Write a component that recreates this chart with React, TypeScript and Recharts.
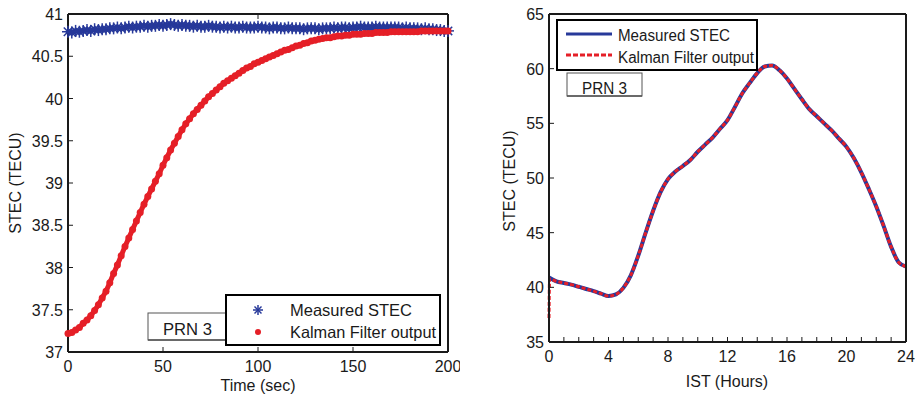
import React from 'react';
import { LineChart, Line, XAxis, YAxis } from 'recharts';

// --- LEFT CHART: convergence over the first 200 s ---
const timeSec = [
  0, 2, 4, 6, 8, 10, 12, 14, 16, 18,
  20, 22, 24, 26, 28, 30, 32, 34, 36, 38,
  40, 42, 44, 46, 48, 50, 52, 54, 56, 58,
  60, 62, 64, 66, 68, 70, 72, 74, 76, 78,
  80, 82, 84, 86, 88, 90, 92, 94, 96, 98,
  100, 102, 104, 106, 108, 110, 112, 114, 116, 118,
  120, 122, 124, 126, 128, 130, 132, 134, 136, 138,
  140, 142, 144, 146, 148, 150, 152, 154, 156, 158,
  160, 162, 164, 166, 168, 170, 172, 174, 176, 178,
  180, 182, 184, 186, 188, 190, 192, 194, 196, 198,
  200,
];

const measuredStec = [
  40.79, 40.78, 40.8, 40.79, 40.8, 40.81, 40.8, 40.82, 40.81, 40.82,
  40.82, 40.83, 40.83, 40.84, 40.83, 40.84, 40.85, 40.84, 40.85, 40.85,
  40.86, 40.85, 40.86, 40.86, 40.87, 40.86, 40.87, 40.88, 40.87, 40.86,
  40.87, 40.86, 40.86, 40.85, 40.86, 40.85, 40.85, 40.86, 40.85, 40.85,
  40.84, 40.85, 40.84, 40.85, 40.84, 40.84, 40.85, 40.84, 40.84, 40.84,
  40.85, 40.84, 40.84, 40.83, 40.84, 40.84, 40.83, 40.83, 40.84, 40.83,
  40.83, 40.83, 40.82, 40.83, 40.83, 40.83, 40.82, 40.83, 40.83, 40.83,
  40.84, 40.83, 40.84, 40.84, 40.83, 40.84, 40.84, 40.85, 40.84, 40.84,
  40.84, 40.85, 40.84, 40.84, 40.84, 40.84, 40.84, 40.84, 40.83, 40.84,
  40.83, 40.83, 40.83, 40.82, 40.83, 40.82, 40.82, 40.81, 40.81, 40.8,
  40.8,
];

const kalmanStec = [
  37.22, 37.23, 37.26, 37.29, 37.34, 37.38, 37.43, 37.49, 37.56, 37.64,
  37.72, 37.82, 37.93, 38.03, 38.14, 38.25, 38.35, 38.45, 38.55, 38.65,
  38.75, 38.84, 38.93, 39.02, 39.11, 39.21, 39.3, 39.39, 39.47, 39.55,
  39.63, 39.7, 39.76, 39.82, 39.87, 39.92, 39.97, 40.02, 40.06, 40.1,
  40.14, 40.18, 40.21, 40.24, 40.27, 40.3, 40.33, 40.36, 40.38, 40.41,
  40.43, 40.45, 40.47, 40.49, 40.51, 40.53, 40.55, 40.57, 40.58, 40.6,
  40.62, 40.63, 40.65, 40.66, 40.68, 40.69, 40.7, 40.71, 40.72, 40.72,
  40.73, 40.74, 40.74, 40.75, 40.75, 40.76, 40.76, 40.76, 40.77, 40.77,
  40.77, 40.78, 40.78, 40.78, 40.78, 40.79, 40.79, 40.79, 40.79, 40.79,
  40.79, 40.79, 40.79, 40.8, 40.8, 40.8, 40.8, 40.8, 40.8, 40.8,
  40.8,
];

const leftXTicks = [0, 50, 100, 150, 200];
const leftYTicks = [37, 37.5, 38, 38.5, 39, 39.5, 40, 40.5, 41];

// --- RIGHT CHART: full day ---
const istHours = [
  0, 0.5, 1, 1.5, 2, 2.5, 3, 3.5, 4, 4.5,
  5, 5.5, 6, 6.5, 7, 7.5, 8, 8.5, 9, 9.5,
  10, 10.5, 11, 11.5, 12, 12.5, 13, 13.5, 14, 14.5,
  15, 15.5, 16, 16.5, 17, 17.5, 18, 18.5, 19, 19.5,
  20, 20.5, 21, 21.5, 22, 22.5, 23, 23.5, 24,
];

const istMeasured = [
  40.9, 40.55, 40.4, 40.25, 40.05, 39.85, 39.65, 39.42, 39.2, 39.35,
  39.95, 41.1, 42.9, 45.0, 47.0, 48.7, 49.9, 50.6, 51.1, 51.65,
  52.4, 53.05, 53.7, 54.5, 55.3, 56.5, 57.75, 58.7, 59.6, 60.2,
  60.3, 59.85, 59.1, 58.15, 57.2, 56.3, 55.65, 55.0, 54.35, 53.6,
  52.85, 51.8, 50.5, 49.0, 47.4, 45.6, 43.7, 42.3, 41.9,
];

// filter starts low and jumps onto the measurement within the first minutes
const kalmanStartHours = [0, 0.04];
const kalmanStartTecu = [37.2, 40.75];

const rightXTicks = [
  0, 1, 2, 3, 4, 5, 6, 7, 8, 9, 10, 11, 12,
  13, 14, 15, 16, 17, 18, 19, 20, 21, 22, 23, 24,
];
const rightYTicks = [35, 40, 45, 50, 55, 60, 65];

const BLUE = '#27399a';
const RED = '#e51f27';
const INK = '#1a1a1a';
const FONT = '"Liberation Sans", Arial, sans-serif';
const TICK_LEN = 5;

type Side = 'bottom' | 'top' | 'left' | 'right';

const makeTick = (side: Side, showLabel: (v: number) => boolean) => (props: any) => {
  const { x, y, payload } = props;
  const v = payload.value;
  let mark;
  let label = null;
  if (side === 'bottom') {
    mark = <line x1={x} y1={y} x2={x} y2={y - TICK_LEN} stroke={INK} />;
    if (showLabel(v))
      label = (
        <text x={x} y={y + 20} textAnchor="middle" fontSize={16} fontFamily={FONT} fill={INK}>
          {v}
        </text>
      );
  } else if (side === 'top') {
    mark = <line x1={x} y1={y} x2={x} y2={y + TICK_LEN} stroke={INK} />;
  } else if (side === 'left') {
    mark = <line x1={x} y1={y} x2={x + TICK_LEN} y2={y} stroke={INK} />;
    if (showLabel(v))
      label = (
        <text x={x - 5} y={y + 6} textAnchor="end" fontSize={16} fontFamily={FONT} fill={INK}>
          {v}
        </text>
      );
  } else {
    mark = <line x1={x} y1={y} x2={x - TICK_LEN} y2={y} stroke={INK} />;
  }
  return (
    <g>
      {mark}
      {label}
    </g>
  );
};

const Asterisk = ({ cx, cy, r = 6 }: { cx: number; cy: number; r?: number }) => {
  const d = r * 0.7;
  return (
    <g stroke={BLUE} strokeWidth={1.5}>
      <line x1={cx - r} y1={cy} x2={cx + r} y2={cy} />
      <line x1={cx} y1={cy - r} x2={cx} y2={cy + r} />
      <line x1={cx - d} y1={cy - d} x2={cx + d} y2={cy + d} />
      <line x1={cx - d} y1={cy + d} x2={cx + d} y2={cy - d} />
    </g>
  );
};

const App: React.FC = () => {
  const leftData = timeSec.map((t, i) => ({
    t,
    measured: measuredStec[i],
    kalman: kalmanStec[i],
  }));

  const rightMeasured = istHours.map((h, i) => ({ h, v: istMeasured[i] }));
  const rightKalman = [
    ...kalmanStartHours.map((h, i) => ({ h, v: kalmanStartTecu[i] })),
    ...istHours.slice(1).map((h, i) => ({ h, v: istMeasured[i + 1] })),
  ];

  const axisLine = { stroke: INK, strokeWidth: 2 };
  // shared props for the thin frame axes (1px so recharts still draws them)
  const xFrame = { type: 'number' as const, interval: 0 as const, height: 1, tickSize: 0, tickMargin: 0, tickLine: false, axisLine };
  const yFrame = { type: 'number' as const, interval: 0 as const, width: 1, tickSize: 0, tickMargin: 0, tickLine: false, axisLine };

  return (
    <div style={{ position: 'absolute', left: 0, top: 0, width: 917, height: 401, background: '#fff' }}>
      {/* LEFT */}
      <div style={{ position: 'absolute', left: 0, top: 0 }}>
        <LineChart width={460} height={401} data={leftData} margin={{ top: 13, right: 11, bottom: 48, left: 67 }}>
          <XAxis dataKey="t" {...xFrame} domain={[0, 200]} ticks={leftXTicks} tick={makeTick('bottom', () => true)} />
          <XAxis xAxisId="top" orientation="top" {...xFrame} domain={[0, 200]} ticks={leftXTicks} tick={makeTick('top', () => false)} />
          <YAxis {...yFrame} domain={[37, 41]} ticks={leftYTicks} tick={makeTick('left', () => true)} />
          <YAxis yAxisId="right" orientation="right" {...yFrame} domain={[37, 41]} ticks={leftYTicks} tick={makeTick('right', () => false)} />
          <Line
            dataKey="measured"
            stroke={BLUE}
            strokeWidth={5}
            isAnimationActive={false}
            dot={(p: any) => <Asterisk key={`m-${p.index}`} cx={p.cx} cy={p.cy} />}
          />
          <Line
            dataKey="kalman"
            stroke={RED}
            strokeWidth={5}
            isAnimationActive={false}
            dot={(p: any) => <circle key={`k-${p.index}`} cx={p.cx} cy={p.cy} r={3.5} fill={RED} />}
          />
        </LineChart>
      </div>

      {/* RIGHT */}
      <div style={{ position: 'absolute', left: 460, top: 0 }}>
        <LineChart width={457} height={401} margin={{ top: 13, right: 10, bottom: 58, left: 88 }}>
          <XAxis dataKey="h" {...xFrame} domain={[0, 24]} ticks={rightXTicks} tick={makeTick('bottom', (v) => v % 4 === 0)} />
          <XAxis xAxisId="top" orientation="top" {...xFrame} domain={[0, 24]} ticks={rightXTicks} tick={makeTick('top', () => false)} />
          <YAxis {...yFrame} domain={[35, 65]} ticks={rightYTicks} tick={makeTick('left', () => true)} />
          <YAxis yAxisId="right" orientation="right" {...yFrame} domain={[35, 65]} ticks={rightYTicks} tick={makeTick('right', () => false)} />
          <Line
            data={rightMeasured}
            dataKey="v"
            type="monotone"
            stroke={BLUE}
            strokeWidth={4}
            dot={false}
            isAnimationActive={false}
          />
          <Line
            data={rightKalman}
            dataKey="v"
            type="monotone"
            stroke={RED}
            strokeWidth={3}
            strokeDasharray="4 2"
            dot={false}
            isAnimationActive={false}
          />
        </LineChart>
      </div>

      {/* annotations: titles, legends, PRN boxes */}
      <svg
        width={917}
        height={401}
        style={{ position: 'absolute', left: 0, top: 0, pointerEvents: 'none' }}
        fontFamily={FONT}
        fill={INK}
      >
        <text x={21} y={183} fontSize={16} textAnchor="middle" transform="rotate(-90 21 183)">
          STEC (TECU)
        </text>
        <text x={258} y={391} fontSize={16} textAnchor="middle">
          Time (sec)
        </text>
        <text x={515} y={181} fontSize={16} textAnchor="middle" transform="rotate(-90 515 181)">
          STEC (TECU)
        </text>
        <text x={727} y={387} fontSize={16} textAnchor="middle">
          IST (Hours)
        </text>

        {/* left PRN box + legend */}
        <rect x={148} y={313} width={90} height={27} fill="#fff" stroke="#555" strokeWidth={1} />
        <line x1={148} y1={340} x2={238} y2={340} stroke="#555" strokeWidth={1.5} />
        <text x={163} y={335} fontSize={16.5} textLength={49} lengthAdjust="spacingAndGlyphs">
          PRN 3
        </text>
        <rect x={226} y={295} width={214} height={50} fill="#fff" stroke="#000" strokeWidth={2} />
        <Asterisk cx={258} cy={310} r={5} />
        <circle cx={258} cy={332} r={3} fill={RED} />
        <text x={290} y={316} fontSize={16.5} textLength={122} lengthAdjust="spacingAndGlyphs">
          Measured STEC
        </text>
        <text x={290} y={338} fontSize={16.5} textLength={146} lengthAdjust="spacingAndGlyphs">
          Kalman Filter output
        </text>

        {/* right legend + PRN box */}
        <rect x={557} y={20} width={200} height={50} fill="#fff" stroke="#000" strokeWidth={2} />
        <line x1={566} y1={34} x2={612} y2={34} stroke={BLUE} strokeWidth={3} />
        <line x1={566} y1={55} x2={612} y2={55} stroke={RED} strokeWidth={3} strokeDasharray="5 2" />
        <text x={618} y={41} fontSize={16} textLength={112} lengthAdjust="spacingAndGlyphs">
          Measured STEC
        </text>
        <text x={618} y={63} fontSize={16} textLength={136} lengthAdjust="spacingAndGlyphs">
          Kalman Filter output
        </text>
        <rect x={567} y={73} width={75} height={23} fill="#fff" stroke="#555" strokeWidth={1} />
        <line x1={567} y1={96} x2={642} y2={96} stroke="#555" strokeWidth={1.5} />
        <text x={582} y={94} fontSize={16} textLength={45} lengthAdjust="spacingAndGlyphs">
          PRN 3
        </text>
      </svg>
    </div>
  );
};

export default App;
